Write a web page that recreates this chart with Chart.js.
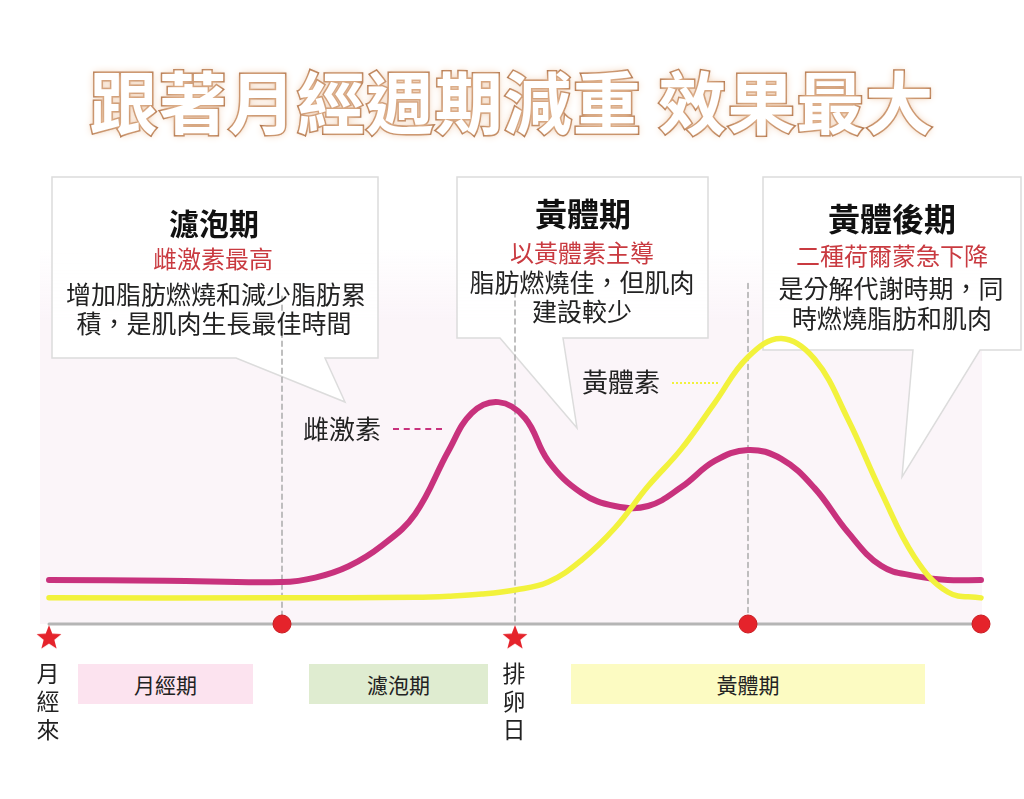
<!DOCTYPE html>
<html>
<head>
<meta charset="utf-8">
<script src="https://cdn.jsdelivr.net/npm/chart.js@4/dist/chart.umd.min.js"></script>
<style>
  body { margin: 0; background: #fff; }
  #wrap { position: relative; width: 1024px; height: 799px; overflow: hidden; font-family: "Noto Sans CJK TC", "Noto Sans", sans-serif; }
  #cycleChart { position: absolute; left: 0; top: 0; }
  .txt { position: absolute; transform: translate(-50%, -50%); white-space: nowrap; line-height: 1; color: #222; }
  #title { position: absolute; left: 0; top: 58px; width: 1024px; text-align: center; font-size: 68px; font-weight: 700; line-height: 84px;
           color: #fff; -webkit-text-stroke: 3px #a86a40; paint-order: stroke fill; letter-spacing: 1px;
           text-shadow: 0 0 3px #d9a479, 0 0 8px #f0cdb0; }
  .phase { position: absolute; top: 664px; height: 40px; line-height: 40px; text-align: center; font-size: 21px; color: #222; }
  .vlabel { position: absolute; transform: translateX(-50%); font-size: 23px; line-height: 28px; text-align: center; color: #222; }
  .dash { position: absolute; height: 0; }
</style>
</head>
<body>
<div id="wrap">
  <canvas id="cycleChart" width="1024" height="799"></canvas>
  <div id="title">跟著月經週期減重 效果最大</div>
</div>
<script>
// cycle days and hormone levels (arbitrary units)
const estrogenDays = [0, 3.5, 7, 8, 9, 10, 11, 12, 12.7, 13.5, 14.3, 15, 16, 17, 18, 19, 20, 21, 22, 23, 24, 25, 26, 27, 28];
const estrogenLevels = [12.8, 12.6, 12.2, 13.5, 16.8, 22.8, 32.0, 50.3, 61.3, 64.5, 59.9, 47.4, 38.1, 34.3, 34.3, 39.8, 47.4, 50.6, 48.0, 39.5, 26.7, 16.9, 14.0, 12.8, 12.8];

const progesteroneDays = [0, 7, 11, 12, 13, 14, 15, 16, 17, 18, 19, 20, 21, 22, 23, 24, 25, 26, 27, 28];
const progesteroneLevels = [7.6, 7.6, 7.8, 8.1, 8.7, 9.9, 12.2, 18.6, 27.9, 40.1, 50.9, 64.3, 77.6, 83.0, 77.0, 59.6, 38.4, 19.5, 9.3, 7.6];

// phases along the cycle
const phaseNames = ['月經期', '濾泡期', '黃體期'];
const phaseStart = [0, 7, 14];
const phaseEnd = [7, 14, 28];

// markers on the timeline
const starDays = [0, 14];
const starLabels = ['月經來', '排卵日'];
const circleDays = [7, 21, 28];
const dividerDays = [7, 14, 21];

const magenta = '#c8327d';
const yellow = '#f2f23c';

// filled star used as point style
function makeStar() {
    const c = document.createElement('canvas');
    c.width = 28; c.height = 28;
    const g = c.getContext('2d');
    g.beginPath();
    for (let i = 0; i < 10; i++) {
        const r = i % 2 === 0 ? 13 : 5.6;
        const a = -Math.PI / 2 + i * Math.PI / 5;
        g.lineTo(14 + r * Math.cos(a), 15 + r * Math.sin(a));
    }
    g.closePath();
    g.fillStyle = '#e5232b';
    g.fill();
    return c;
}

/**
 * soft background and speech bubbles behind the curves
 */
const backdrop = {
    id: 'backdrop',
    beforeDatasetsDraw(chart) {
        const ctx = chart.ctx;
        const a = chart.chartArea;
        const base = chart.scales.y.getPixelForValue(0);
        ctx.save();
        const grad = ctx.createLinearGradient(0, 250, 0, 320);
        grad.addColorStop(0, 'rgba(251,245,249,0)');
        grad.addColorStop(1, 'rgba(251,245,249,1)');
        ctx.fillStyle = grad;
        ctx.fillRect(a.left - 9, 250, a.right - a.left + 10, base - 250);

        const bubbles = [
            [52, 177, 378, 358, 236, 325, 345, 402],
            [457, 177, 708, 338, 500, 563, 577, 428],
            [763, 177, 1021, 350, 913, 980, 902, 477]
        ];
        bubbles.forEach(b => {
            ctx.beginPath();
            ctx.moveTo(b[0], b[1]);
            ctx.lineTo(b[2], b[1]);
            ctx.lineTo(b[2], b[3]);
            ctx.lineTo(b[5], b[3]);
            ctx.lineTo(b[6], b[7]);
            ctx.lineTo(b[4], b[3]);
            ctx.lineTo(b[0], b[3]);
            ctx.closePath();
            ctx.fillStyle = 'rgba(255,255,255,0.92)';
            ctx.fill();
            ctx.strokeStyle = '#dcdcdc';
            ctx.lineWidth = 1.5;
            ctx.stroke();
        });
        ctx.restore();
    }
};

const toPoints = (xs, ys) => xs.map((x, i) => ({ x: x, y: ys[i] }));

const datasets = [
    {
        label: 'stars',
        data: starDays.map(d => ({ x: d, y: -3.8 })),
        showLine: false, pointStyle: makeStar(), pointRadius: 12, order: 0, clip: false
    },
    {
        label: 'circles',
        data: circleDays.map(d => ({ x: d, y: 0 })),
        showLine: false, pointStyle: 'circle', pointRadius: 9,
        pointBackgroundColor: '#e5232b', pointBorderColor: '#c91c22', pointBorderWidth: 1, order: 0, clip: false
    },
    {
        label: '黃體素',
        data: toPoints(progesteroneDays, progesteroneLevels),
        borderColor: yellow, borderWidth: 5.5, tension: 0.4, order: 1, clip: false
    },
    {
        label: '雌激素',
        data: toPoints(estrogenDays, estrogenLevels),
        borderColor: magenta, borderWidth: 6, tension: 0.4, order: 2, clip: false
    },
    {
        label: 'axis',
        data: [{ x: 0, y: 0 }, { x: 28, y: 0 }],
        borderColor: '#b5b5b5', borderWidth: 3, order: 3, clip: false
    }
];
const dividerTops = [95.3, 96.5, 99];
dividerDays.forEach((d, i) => {
    datasets.push({
        label: 'divider',
        data: [{ x: d, y: dividerTops[i] }, { x: d, y: 0 }],
        borderColor: '#aaaaaa', borderWidth: 1.5, borderDash: [5, 4], order: 4, clip: false
    });
});

const chart = new Chart(document.getElementById('cycleChart'), {
    type: 'line',
    data: { datasets: datasets },
    options: {
        responsive: false,
        animation: false,
        layout: { padding: { left: 49, right: 43, top: 280, bottom: 149 } },
        elements: { point: { radius: 0 }, line: { borderCapStyle: 'round' } },
        scales: {
            x: { type: 'linear', min: 0, max: 28, display: false },
            y: { min: -7.558, max: 100, display: false }
        },
        plugins: { legend: { display: false }, tooltip: { enabled: false } }
    },
    plugins: [backdrop]
});

const wrap = document.getElementById('wrap');
function addText(text, cx, cy, size, color, weight) {
    const el = document.createElement('div');
    el.className = 'txt';
    el.textContent = text;
    el.style.left = cx + 'px';
    el.style.top = cy + 'px';
    el.style.fontSize = size + 'px';
    if (color) el.style.color = color;
    if (weight) el.style.fontWeight = weight;
    wrap.appendChild(el);
}

const red = '#c93a40';
// bubble 1
addText('濾泡期', 214, 222, 30, '#111', 700);
addText('雌激素最高', 213, 258, 24, red);
addText('增加脂肪燃燒和減少脂肪累', 216, 293, 25);
addText('積，是肌肉生長最佳時間', 214, 322, 25);
// bubble 2
addText('黃體期', 583, 212, 32, '#111', 700);
addText('以黃體素主導', 582, 252, 24, red);
addText('脂肪燃燒佳，但肌肉', 582, 281, 25);
addText('建設較少', 582, 310, 25);
// bubble 3
addText('黃體後期', 892, 217, 32, '#111', 700);
addText('二種荷爾蒙急下降', 892, 255, 24, red);
addText('是分解代謝時期，同', 891, 287, 25);
addText('時燃燒脂肪和肌肉', 892, 317, 25);

// curve labels
addText('雌激素', 342, 428, 26);
addText('黃體素', 621, 381, 26);
[[393, 442, 428, '2px dashed ' + magenta], [672, 718, 382, '2px dotted ' + yellow]].forEach(d => {
    const el = document.createElement('div');
    el.className = 'dash';
    el.style.left = d[0] + 'px';
    el.style.width = (d[1] - d[0]) + 'px';
    el.style.top = d[2] + 'px';
    el.style.borderTop = d[3];
    wrap.appendChild(el);
});

// phase bars under the timeline
const xs = chart.scales.x;
const phaseFill = ['#fce3ef', '#dfecd0', '#fcfbc2'];
const phaseInset = [29, 27, 56];
phaseNames.forEach((name, i) => {
    const l = xs.getPixelForValue(phaseStart[i]) + phaseInset[i];
    const r = xs.getPixelForValue(phaseEnd[i]) - phaseInset[i];
    const el = document.createElement('div');
    el.className = 'phase';
    el.textContent = name;
    el.style.left = l + 'px';
    el.style.width = (r - l) + 'px';
    el.style.background = phaseFill[i];
    wrap.appendChild(el);
});

// vertical labels under the stars
starDays.forEach((d, i) => {
    const el = document.createElement('div');
    el.className = 'vlabel';
    el.innerHTML = starLabels[i].split('').join('<br>');
    el.style.left = (xs.getPixelForValue(d) - 1) + 'px';
    el.style.top = '658px';
    wrap.appendChild(el);
});
</script>
</body>
</html>
